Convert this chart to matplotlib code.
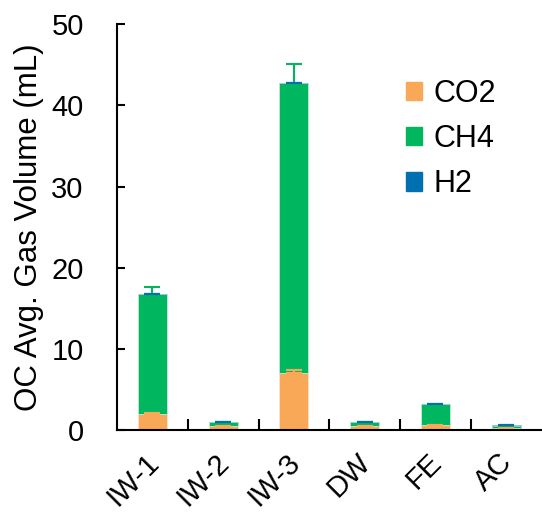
import matplotlib
matplotlib.use("Agg")
import matplotlib.pyplot as plt
import matplotlib.transforms as mtransforms
import numpy as np
from matplotlib.patches import Patch

plt.rcParams['font.family'] = ['Liberation Sans', 'DejaVu Sans']

samples = ["IW-1", "IW-2", "IW-3", "DW", "FE", "AC"]
co2 = [2.0, 0.5, 7.0, 0.5, 0.6, 0.2]
ch4 = [14.75, 0.45, 35.75, 0.45, 2.55, 0.35]
h2 = [0.05, 0.05, 0.05, 0.05, 0.05, 0.05]
co2_err = [0.1, 0.05, 0.4, 0.05, 0.05, 0.02]
ch4_err = [0.9, 0.1, 2.4, 0.05, 0.1, 0.05]
h2_err = [0.0, 0.0, 0.0, 0.0, 0.0, 0.0]

c_co2 = "#F9A857"
c_ch4 = "#00B75F"
c_h2 = "#0070B0"

fig = plt.figure(figsize=(5.42, 5.15), dpi=100)
ax = fig.add_axes([0.216, 0.165, 0.783, 0.788])

x = np.arange(len(samples))
w = 0.41
co2 = np.array(co2)
ch4 = np.array(ch4)
h2 = np.array(h2)
zeros = np.zeros(len(x))

ek = dict(capsize=6, elinewidth=1.5, capthick=1.5)
ax.bar(x, co2, w, color=c_co2, edgecolor="#FDE3C8", linewidth=0.6, zorder=2)
ax.errorbar(x, co2, yerr=[zeros, co2_err], fmt="none", ecolor=c_co2, zorder=3, **ek)
ax.bar(x, ch4, w, bottom=co2, color=c_ch4, edgecolor="#BFEAD3", linewidth=0.6, zorder=2)
ax.errorbar(x, co2 + ch4, yerr=[zeros, ch4_err], fmt="none", ecolor=c_ch4, zorder=3, **ek)
ax.bar(x, h2, w, bottom=co2 + ch4, color=c_h2, edgecolor="#9CC3DE", linewidth=0.6, zorder=2)
ax.errorbar(x, co2 + ch4 + h2, yerr=[zeros, h2_err], fmt="none", ecolor=c_h2, zorder=4, **ek)

ax.set_xlim(-0.5, len(samples) - 0.5)
ax.set_ylim(0, 50)
ax.set_yticks([0, 10, 20, 30, 40, 50])
ax.tick_params(axis="y", labelsize=21, width=1.5, length=6, direction="in", pad=24)

ax.set_xticks(x)
ax.set_xticklabels(samples, rotation=45, ha="right", rotation_mode="anchor", fontsize=21)
ax.tick_params(axis="x", length=0, pad=13)
shift = mtransforms.ScaledTranslation(-8 / 100, 0, fig.dpi_scale_trans)
for lab in ax.get_xticklabels():
    lab.set_transform(lab.get_transform() + shift)
ax.set_xticks(np.arange(0.5, len(samples) - 0.5, 1.0), minor=True)
ax.tick_params(axis="x", which="minor", direction="in", length=8, width=1.5)

for s in ["top", "right"]:
    ax.spines[s].set_visible(False)
for s in ["left", "bottom"]:
    ax.spines[s].set_linewidth(1.5)

ax.set_ylabel("OC Avg. Gas Volume (mL)", fontsize=22.5, labelpad=5)

handles = [Patch(color=c_co2, label="CO2"), Patch(color=c_ch4, label="CH4"), Patch(color=c_h2, label="H2")]
ax.legend(handles=handles, loc="upper left", bbox_to_anchor=(0.68, 0.866), frameon=False,
          fontsize=22, handlelength=0.55, handleheight=0.55, handletextpad=0.35, labelspacing=0.5,
          borderpad=0, borderaxespad=0)

fig.savefig("out.png", dpi=100)
